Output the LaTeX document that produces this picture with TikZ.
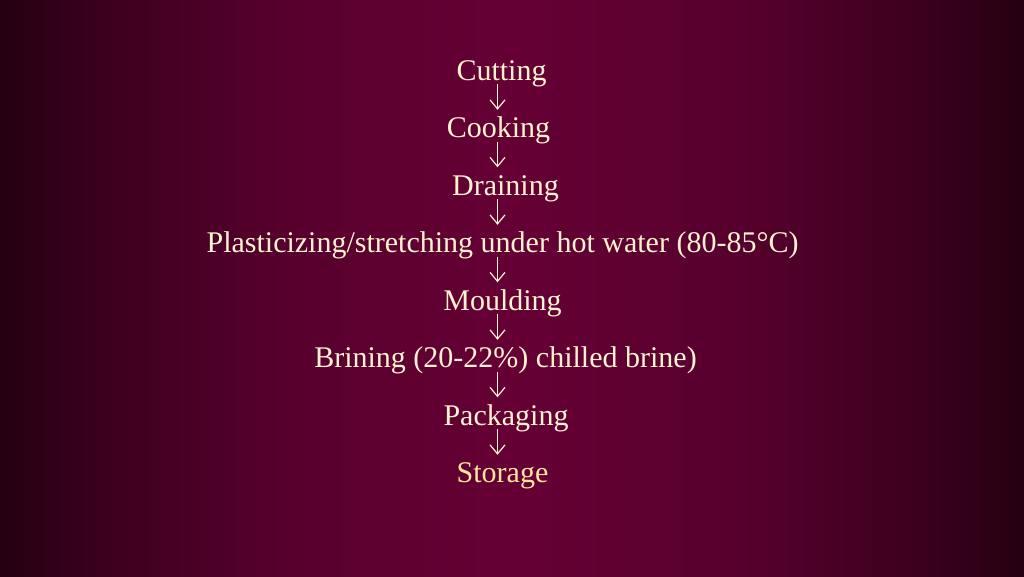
\documentclass[tikz,border=0pt]{standalone}
\usepackage{fontspec}
\setmainfont{Liberation Serif}
\usetikzlibrary{arrows.meta}
\definecolor{bgedge}{HTML}{250011}
\definecolor{bgmid1}{HTML}{3F001F}
\definecolor{bgmid2}{HTML}{57002D}
\definecolor{bgcenter}{HTML}{660034}
\definecolor{cream}{HTML}{FFF3D2}
\definecolor{gold}{HTML}{FFE6A0}
\pgfdeclarehorizontalshading{slidebg}{100bp}{%
  color(0bp)=(bgedge); color(25bp)=(bgedge); color(31bp)=(bgmid1); color(39bp)=(bgmid2);
  color(50bp)=(bgcenter); color(61bp)=(bgmid2); color(69bp)=(bgmid1);
  color(75bp)=(bgedge); color(100bp)=(bgedge)}
\begin{document}
\begin{tikzpicture}[x=1pt,y=-1pt,
  stepnode/.style={anchor=base,inner sep=0pt,text height=20pt,text depth=6pt,
    text=cream,font=\fontsize{30}{36}\selectfont},
  arr/.style={draw=cream,line width=1.2pt,
    -{Straight Barb[length=9pt,width=15pt,line width=1.2pt]},
    shorten <=-2pt,shorten >=7.5pt}]
\useasboundingbox (0,0) rectangle (1024,576);
\shade[shading=slidebg] (0,0) rectangle (1024,576);
\coordinate (ax) at (497.5,0);
\node[stepnode] (n1) at (501.5,80) {Cutting};
\node[stepnode] (n2) at (498.5,137.5) {Cooking};
\node[stepnode] (n3) at (505.5,195) {Draining};
\node[stepnode] (n4) at (502.5,252.5) {Plasticizing/stretching under hot water (80-85°C)};
\node[stepnode] (n5) at (502.5,310) {Moulding};
\node[stepnode] (n6) at (505.5,367.5) {Brining (20-22\%) chilled brine)};
\node[stepnode] (n7) at (506,425) {Packaging};
\node[stepnode,text=gold] (n8) at (502.5,482.5) {Storage};
\foreach \a/\b in {n1/n2,n2/n3,n3/n4,n4/n5,n5/n6,n6/n7,n7/n8}
  \draw[arr] (\a.south -| ax) -- (\b.north -| ax);
\end{tikzpicture}
\end{document}
